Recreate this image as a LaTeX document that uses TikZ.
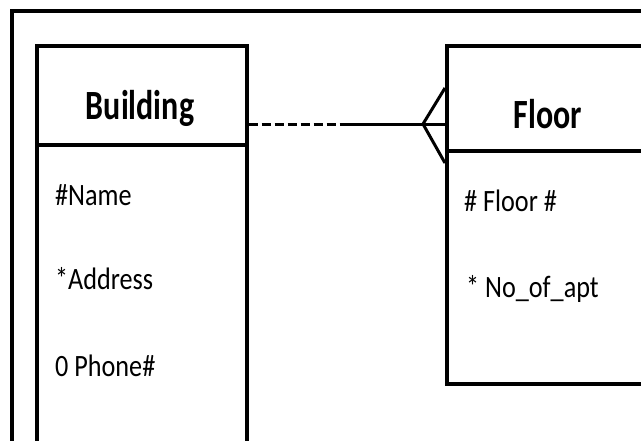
\documentclass[tikz,border=0pt]{standalone}
\usepackage{fontspec}
\setmainfont{Carlito}
\usetikzlibrary{calc}
\begin{document}
\begin{tikzpicture}[x=1pt,y=-1pt,
  frame/.style={draw=black,line width=3.5pt},
  boxpart/.style={draw=black,line width=3.5pt,anchor=north west,inner sep=0pt},
  title/.style={font=\fontsize{32}{32}\selectfont\bfseries,inner sep=0pt},
  attr/.style={font=\fontsize{27}{27}\selectfont,inner sep=0pt,anchor=west},
  link/.style={line width=3pt}]
\useasboundingbox (0,0) rectangle (641,440);
\begin{scope}
\clip (0,0) rectangle (641,440);
% outer frame
\draw[frame] (12,11) rectangle (700,500);
% Building entity
\node[boxpart,minimum width=210pt,minimum height=99pt] (bhead) at (35,44) {};
\node[boxpart,minimum width=210pt,minimum height=340pt] (bbody) at (35,143) {};
\node[title] (btitle) at (140,108) {\scalebox{1}[1.3]{Building}};
\node[attr] (bname) at (55,195) {\scalebox{0.97}[1.15]{\#Name}};
\node[attr] (baddr) at (55,279) {\scalebox{0.97}[1.15]{*Address}};
\node[attr] (bphone) at (55,366) {\scalebox{0.97}[1.15]{0 Phone\#}};
% Floor entity
\node[boxpart,minimum width=260pt,minimum height=105pt] (fhead) at (445,44) {};
\node[boxpart,minimum width=260pt,minimum height=233pt] (fbody) at (445,149) {};
\node[title] (ftitle) at (548,114) {\scalebox{1}[1.3]{Floor}};
\node[attr] (fnum) at (464,201) {\scalebox{0.97}[1.15]{\# Floor \#}};
\node[attr] (fapt) at (466,289) {\scalebox{0.97}[1.15]{* No\_of\_apt}};
% relationship: optional on Building side, mandatory crow's foot on Floor side
\coordinate (mid) at (345,124);
\coordinate (apex) at (423,124);
\draw[link,dash pattern=on 9pt off 4pt] (bhead.east |- mid) -- (mid);
\draw[link] (mid) -- (fhead.west |- mid);
\draw[link] ($(fhead.west |- mid)+(0,-36)$) -- (apex) -- ($(fhead.west |- mid)+(0,39)$);
\end{scope}
\end{tikzpicture}
\end{document}
